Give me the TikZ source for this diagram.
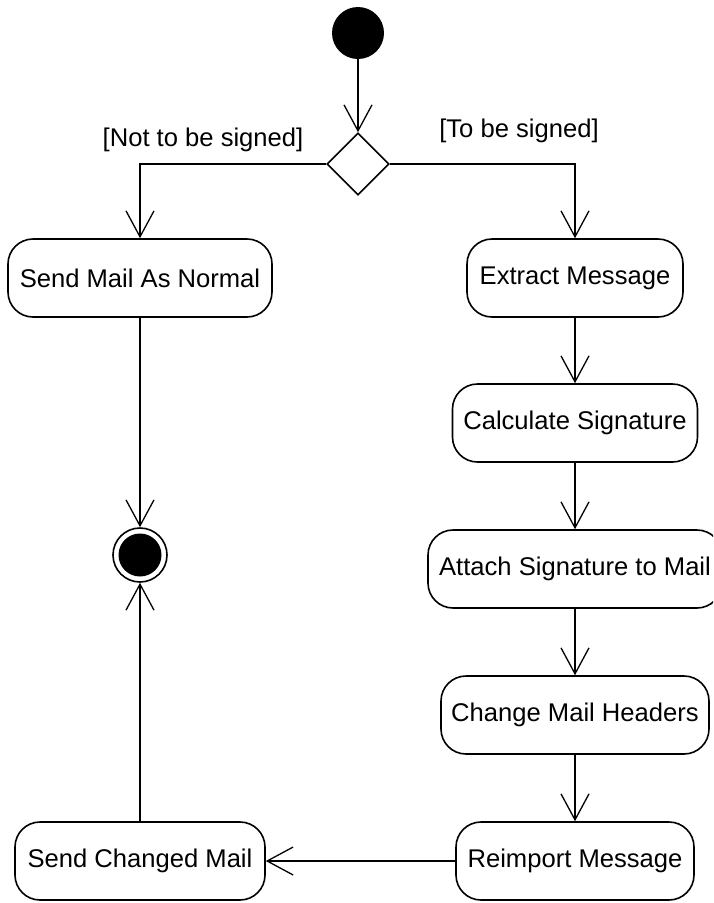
\documentclass[tikz,border=0pt]{standalone}
\usepackage{fontspec}
\setmainfont{Liberation Sans}
\usetikzlibrary{shapes.geometric,arrows.meta}
\begin{document}
\begin{tikzpicture}[x=1pt,y=-1pt,
  every node/.style={font=\fontsize{25.6}{30}\selectfont},
  action/.style={draw,rounded corners=25pt,line width=1.6pt,minimum height=78pt,inner sep=0pt,fill=white},
  flow/.style={line width=1.3pt,-{Straight Barb[length=26pt,width=28pt,line width=1.3pt]}},
  guard/.style={inner sep=0pt}]
\clip (0,0) rectangle (713,903);
\fill[white] (0,0) rectangle (713,903);

% initial and final states, decision
\node[circle,fill=black,minimum size=52pt,inner sep=0pt] (start) at (358,33) {};
\node[diamond,draw,line width=1.6pt,minimum width=62pt,minimum height=62pt,inner sep=0pt] (dec) at (358,164) {};
\node[circle,draw,line width=1.6pt,minimum size=54pt,inner sep=0pt] (end) at (140,555) {};
\fill (end.center) circle (21.5);

% actions
\node[action,minimum width=264pt] (normal) at (140,278) {Send Mail As Normal};
\node[action,minimum width=216pt] (extract) at (575,278) {Extract Message};
\node[action,minimum width=245pt] (calc) at (575,423) {Calculate Signature};
\node[action,minimum width=294pt] (attach) at (575,569) {Attach Signature to Mail};
\node[action,minimum width=268pt] (headers) at (575,715) {Change Mail Headers};
\node[action,minimum width=238pt] (reimport) at (575,861) {Reimport Message};
\node[action,minimum width=250pt] (changed) at (140,861) {Send Changed Mail};

% guards
\node[guard] (gno) at (203,140) {[Not to be signed]};
\node[guard] (gyes) at (519,131) {[To be signed]};

% transitions
\draw[flow] (start) -- (dec.north);
\draw[flow] (dec.west) -| (normal.north);
\draw[flow] (dec.east) -| (extract.north);
\draw[flow] (normal.south) -- (end.north);
\draw[flow] (extract.south) -- (calc.north);
\draw[flow] (calc.south) -- (attach.north);
\draw[flow] (attach.south) -- (headers.north);
\draw[flow] (headers.south) -- (reimport.north);
\draw[flow] (reimport.west) -- (changed.east);
\draw[flow] (changed.north) -- (end.south);
\end{tikzpicture}
\end{document}
